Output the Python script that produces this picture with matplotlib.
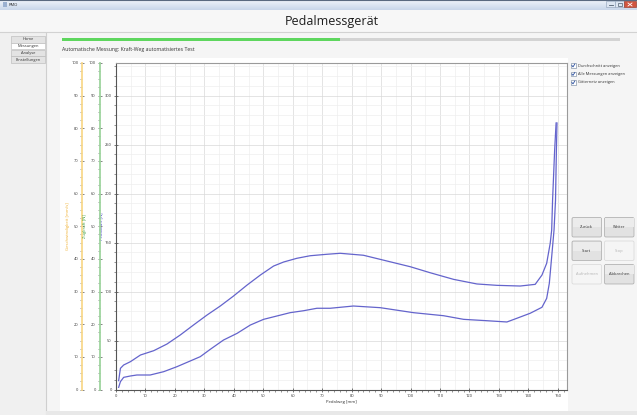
import matplotlib
matplotlib.use('Agg')
import matplotlib.pyplot as plt
from matplotlib.patches import Rectangle, FancyBboxPatch, Polygon
from matplotlib.colors import LinearSegmentedColormap
from matplotlib.ticker import MultipleLocator
import numpy as np

# ---------------- data ----------------
upper_x = [0.9, 1.5, 2.6, 4.9, 8.3, 12.8, 17.3, 21.8, 26.3, 30.9, 35.4, 39.9, 44.5, 49.0,
           53.5, 56.9, 61.4, 65.9, 71.6, 76.1, 84.0, 90.8, 99.9, 106.6, 114.6, 122.5, 129.3,
           137.2, 142.3, 144.6, 146.2, 147.4, 147.9, 148.2, 148.9, 149.4]
upper_y = [9, 21.6, 25, 28.4, 35.2, 39.6, 46.4, 55.6, 65.8, 76, 85.2, 95.4, 106.6, 116.8,
           126, 130.1, 133.9, 136.5, 138, 139, 137, 132, 125.3, 119.2, 112.4, 107.7, 106.3,
           105.6, 107.3, 116.8, 128.8, 149.2, 162.8, 193, 244, 272]
lower_x = [0.9, 1.5, 2.6, 4.9, 7.1, 11.6, 16.2, 20.7, 25.2, 28.6, 32.0, 36.5, 41.1, 45.6,
           50.1, 54.6, 59.1, 63.7, 68.2, 72.7, 80.6, 89.7, 101.0, 111.2, 118.0, 125.9, 132.7,
           136.1, 140.6, 144.6, 146.2, 147.1, 147.9, 148.7, 149.2, 149.5, 149.7]
lower_y = [2.2, 8, 12.4, 13.8, 14.8, 14.8, 18.2, 23.3, 29.1, 33.5, 41, 50.5, 57.3, 65.8,
           71.6, 75, 78.4, 80.4, 82.9, 82.9, 85.2, 83.5, 78.4, 75.3, 71.6, 70.2, 68.9,
           72.7, 77.8, 83.9, 93, 108.4, 135.5, 162.8, 193, 244, 272]

app_title = 'Pedalmessgerät'
window_title = 'PMO'
subtitle = 'Automatische Messung: Kraft-Weg automatisiertes Test'
nav_items = ['Home', 'Messungen', 'Analyse', 'Einstellungen']
check_items = ['Durchschnitt anzeigen', 'Alle Messungen anzeigen', 'Gitternetz anzeigen']
button_rows = [('Zurück', 'Weiter'), ('Start', 'Stop'), ('Aufnehmen', 'Abbrechen')]
disabled_buttons = ['Stop', 'Aufnehmen']
x_label = 'Pedalweg [mm]'
y_label_main = 'Pedalkraft [N]'
y_label_green = 'Zugkraft [N]'
y_label_orange = 'Geschwindigkeit [mm/s]'

plt.rcParams['font.family'] = ['Open Sans', 'DejaVu Sans']

W, H = 637, 415
fig = plt.figure(figsize=(W / 100, H / 100), dpi=100)
fig.patch.set_facecolor('#f0f0f0')
bg = fig.add_axes([0, 0, 1, 1])
bg.axis('off')


def rect(x0, y0, x1, y1, fc, ec='none', lw=0, z=1):
    bg.add_patch(Rectangle((x0, y0), x1 - x0, y1 - y0, facecolor=fc, edgecolor=ec,
                           linewidth=lw, zorder=z))


# title bar
tb = LinearSegmentedColormap.from_list('tb', ['#eef3fa', '#c9d7ea'])
bg.imshow(np.linspace(0, 1, 20).reshape(-1, 1), extent=[0, W, 10, 0], cmap=tb,
          aspect='auto', zorder=1)
bg.plot([0, W], [0.3, 0.3], color='#5a6a80', lw=0.8, zorder=2)
rect(2.5, 2.5, 6.5, 7, '#9ab0d0', z=2)
bg.text(9, 5, window_title, fontsize=3, va='center', color='#222', zorder=3)
rect(606, 1.5, 615, 7.5, '#dde6f2', ec='#8ea0b8', lw=0.4, z=2)
rect(615, 1.5, 624, 7.5, '#dde6f2', ec='#8ea0b8', lw=0.4, z=2)
rect(624, 1.5, 636, 7.5, '#d2553f', ec='#8e3020', lw=0.4, z=2)
bg.plot([608.5, 612.5], [5.5, 5.5], color='#506070', lw=0.6, zorder=3)
rect(617.5, 3, 621.5, 6, 'none', ec='#506070', lw=0.5, z=3)
bg.plot([628, 632], [3, 6], color='white', lw=0.6, zorder=3)
bg.plot([628, 632], [6, 3], color='white', lw=0.6, zorder=3)

# header
rect(0, 10, W, 32, '#f7f7f7')
bg.plot([0, W], [32.5, 32.5], color='#d2d2d2', lw=0.8, zorder=2)
bg.text(332, 21, app_title, fontsize=9, ha='center', va='center', color='#1e1e1e', zorder=3)

# left nav
rect(0, 33, 45.5, H, '#f0f0f0')
bg.plot([45.5, 45.5], [33, H], color='#cfcfcf', lw=0.8, zorder=2)
nav_y = [36, 42.8, 49.6, 56.4]
for i, lab in enumerate(nav_items):
    y0 = nav_y[i]
    fc = '#ffffff' if lab == 'Messungen' else '#e3e3e3'
    rect(11, y0, 45, y0 + 6.6, fc, ec='#b5b5b5', lw=0.4, z=2)
    bg.text(28, y0 + 3.4, lab, fontsize=2.9, ha='center', va='center', color='#333', zorder=3)

# main area
rect(46, 33, W, H, '#f5f5f5')
rect(62, 38, 620, 41.2, '#d3d3d3', z=2)
rect(62, 38, 340, 41.2, '#5ed65e', z=3)
bg.text(62, 50, subtitle, fontsize=3.7, va='center', color='#333', zorder=3)
rect(60, 58, 568, 411, '#ffffff', z=2)
rect(46, 411, W, H, '#e8e8e8', z=2)

# checkboxes
for i, lab in enumerate(check_items):
    y = 65.5 + 8.5 * i
    rect(571, y - 2.3, 575.6, y + 2.3, '#ffffff', ec='#6c7e98', lw=0.4, z=3)
    bg.plot([571.9, 573.0, 574.8], [y, y + 1.4, y - 1.5], color='#2a4fa0', lw=0.6, zorder=4)
    bg.text(577.5, y, lab, fontsize=2.9, va='center', color='#333', zorder=3)

# buttons
btn_y = [217.5, 241, 264.5]
btn_x = [572, 604.5]
for r, row in enumerate(button_rows):
    for c, lab in enumerate(row):
        dis = lab in disabled_buttons
        fc = '#f5f5f5' if dis else '#e2e2e2'
        ec = '#d6d6d6' if dis else '#a8a8a8'
        bg.add_patch(FancyBboxPatch((btn_x[c], btn_y[r]), 29.5, 19.5,
                                    boxstyle='round,pad=0,rounding_size=1.5',
                                    facecolor=fc, edgecolor=ec, linewidth=0.5, zorder=3))
        if not dis:
            rect(btn_x[c] + 0.5, btn_y[r] + 0.5, btn_x[c] + 29, btn_y[r] + 9.5, '#ececec', z=3)
        bg.text(btn_x[c] + 14.75, btn_y[r] + 9.75, lab, fontsize=2.9, ha='center',
                va='center', color='#b5b5b5' if dis else '#333', zorder=4)

# mouse cursor
cur = np.array([[0, 0], [0, 7.5], [1.8, 5.9], [3.1, 8.8], [4.2, 8.3], [2.9, 5.5], [5.2, 5.5]])
bg.add_patch(Polygon(cur + [416.5, 236.5], closed=True, facecolor='white', edgecolor='#555',
                     linewidth=0.4, zorder=6))

bg.set_xlim(0, W)
bg.set_ylim(H, 0)

# ---------------- chart axes ----------------
L, R, T, B = 116, 567, 63, 389.5
ax = fig.add_axes([L / W, (H - B) / H, (R - L) / W, (B - T) / H])
ax.set_facecolor('white')
ax.set_xlim(0, 153.1)
ax.set_ylim(0, 333.2)
for xv in np.arange(5, 153, 5):
    ax.axvline(xv, color='#d9d9d9' if xv % 10 == 0 else '#eeeeee', lw=0.5, zorder=0)
for yv in np.arange(10, 333, 10):
    ax.axhline(yv, color='#d9d9d9' if yv % 50 == 0 else '#eeeeee', lw=0.5, zorder=0)

line_color = '#6464cc'
ax.plot(upper_x, upper_y, color=line_color, lw=0.9, zorder=3, solid_joinstyle='round')
ax.plot(lower_x, lower_y, color=line_color, lw=0.9, zorder=3, solid_joinstyle='round')

ax.xaxis.set_major_locator(MultipleLocator(10))
ax.xaxis.set_minor_locator(MultipleLocator(2))
ax.yaxis.set_major_locator(MultipleLocator(50))
ax.yaxis.set_minor_locator(MultipleLocator(10))
ax.tick_params(which='major', length=3, width=0.5, direction='inout', labelsize=2.9,
               color='#444', labelcolor='#333', pad=1.5)
ax.tick_params(which='minor', length=1.6, width=0.4, direction='out', color='#444')
for s in ['left', 'bottom']:
    ax.spines[s].set_color('#555')
    ax.spines[s].set_linewidth(0.8)
for s in ['top', 'right']:
    ax.spines[s].set_color('#9a9a9a')
    ax.spines[s].set_linewidth(0.8)
ax.set_xlabel(x_label, fontsize=3.1, color='#333', labelpad=2)
ax.set_ylabel(y_label_main, fontsize=3.1, color='#3a3ac0', labelpad=1)


def side_axis(xpix, line_col, label, label_col):
    a = fig.add_axes([xpix / W, (H - B) / H, 0.0005, (B - T) / H])
    a.patch.set_alpha(0)
    a.set_ylim(0, 100)
    a.set_xticks([])
    for s in ['top', 'right', 'bottom']:
        a.spines[s].set_visible(False)
    a.spines['left'].set_color(line_col)
    a.spines['left'].set_linewidth(1.3)
    a.yaxis.set_major_locator(MultipleLocator(10))
    a.yaxis.set_minor_locator(MultipleLocator(2.5))
    a.tick_params(which='major', length=3, width=0.5, direction='inout', labelsize=2.9,
                  color='#555', labelcolor='#333', pad=1.5)
    a.tick_params(which='minor', length=1.6, width=0.4, direction='out', color='#555')
    a.set_ylabel(label, fontsize=3.1, color=label_col, labelpad=1)
    return a


side_axis(82.5, '#f9d98c', y_label_orange, '#f0b030')
side_axis(100, '#9ed49e', y_label_green, '#3f9f3f')

fig.savefig('out.png', dpi=100, facecolor=fig.get_facecolor())
